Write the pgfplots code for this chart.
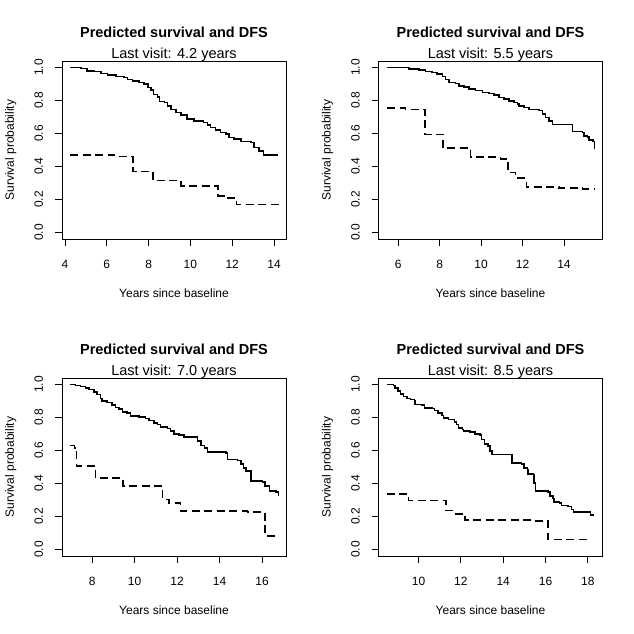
\documentclass[border=0pt]{standalone}
\usepackage{fontspec}
\setmainfont{Liberation Sans}
\usepackage{pgfplots}
\pgfplotsset{compat=1.18}

\pgfplotsset{
  km/.style={
    scale only axis, width=224pt, height=178pt,
    anchor=south west,
    ymin=-0.04, ymax=1.04,
    ytick={0,0.2,0.4,0.6,0.8,1},
    /pgf/number format/assume math mode=true,
    tick align=outside, major tick length=7pt,
    xtick pos=bottom, ytick pos=left,
    axis line style={line width=0.8pt},
    every tick/.style={black, line width=0.8pt},
    tick label style={font=\fontsize{12}{14}\selectfont},
    xticklabel style={anchor=base, yshift=-22pt},
    yticklabel style={xshift=-12pt, rotate=90, anchor=base,
      /pgf/number format/fixed, /pgf/number format/fixed zerofill,
      /pgf/number format/precision=1},
    xlabel={Years since baseline},
    ylabel={Survival probability},
    every axis x label/.style={at={(axis description cs:0.5,0)}, yshift=-58pt, anchor=base,
      font=\fontsize{12}{14}\selectfont},
    every axis y label/.style={at={(axis description cs:0,0.5)}, xshift=-48pt, rotate=90, anchor=base,
      font=\fontsize{12}{14}\selectfont},
    title={Predicted survival and DFS},
    every axis title/.style={at={(axis description cs:0.5,1)}, anchor=base, yshift=24pt,
      font=\bfseries\fontsize{14.5}{17}\selectfont},
  },
  surv/.style={black, const plot, line width=1.5pt},
  dfs/.style={black, const plot, line width=1.5pt, dash pattern=on 8pt off 4.5pt},
}
\newcommand{\lastvisit}[1]{\node[anchor=base, font=\fontsize{14.5}{17}\selectfont, yshift=3pt] at (rel axis cs:0.5,1) {Last visit: #1 years};}

\begin{document}
\begin{tikzpicture}
\path[use as bounding box] (0,0) rectangle (634pt,-634pt);

% top left
\begin{axis}[km, at={(62pt,-239pt)}, xmin=3.86, xmax=14.57, xtick={4,6,...,14}, clip=false]
\addplot[surv] coordinates {
 (4.25,1.000)(4.77,0.994)(5.05,0.980)(5.40,0.976)(5.72,0.964)(6.04,0.956)
 (6.44,0.947)(6.83,0.939)(6.99,0.927)(7.23,0.919)(7.55,0.909)(7.79,0.899)
 (7.98,0.879)(8.11,0.863)(8.24,0.838)(8.43,0.822)(8.51,0.794)(8.75,0.788)
 (8.90,0.768)(9.06,0.747)(9.30,0.727)(9.54,0.713)(9.83,0.687)(10.18,0.677)
 (10.62,0.667)(10.82,0.653)(10.97,0.636)(11.21,0.620)(11.45,0.606)(11.69,0.596)
 (11.85,0.576)(12.09,0.566)(12.41,0.552)(12.89,0.546)(13.04,0.515)(13.28,0.495)
 (13.49,0.469)(14.19,0.469)
};
\addplot[dfs] coordinates {
 (4.25,0.471)(6.36,0.461)(7.25,0.370)(8.20,0.315)(9.55,0.283)(11.33,0.222)
 (11.70,0.208)(12.20,0.170)(14.19,0.166)
};
\lastvisit{4.2}
\end{axis}

% top right
\begin{axis}[km, at={(378.5pt,-239pt)}, xmin=5.05, xmax=15.86, xtick={6,8,...,14}, clip=false]
\addplot[surv] coordinates {
 (5.47,1.000)(6.52,0.992)(7.00,0.984)(7.32,0.976)(7.64,0.970)(7.88,0.960)
 (8.13,0.947)(8.29,0.929)(8.45,0.909)(8.77,0.903)(8.93,0.889)(9.17,0.881)
 (9.41,0.871)(9.74,0.861)(10.06,0.848)(10.38,0.842)(10.62,0.834)(10.86,0.818)
 (11.10,0.808)(11.35,0.798)(11.59,0.788)(11.75,0.778)(11.83,0.768)(12.07,0.758)
 (12.31,0.747)(12.80,0.741)(12.96,0.717)(13.12,0.697)(13.28,0.677)(13.44,0.655)
 (14.41,0.612)(14.89,0.606)(14.97,0.586)(15.13,0.580)(15.21,0.560)(15.40,0.552)
 (15.48,0.505)(15.48,0.505)
};
\addplot[dfs] coordinates {
 (5.47,0.754)(6.35,0.745)(7.29,0.595)(8.17,0.511)(9.49,0.458)(10.94,0.446)
 (11.30,0.364)(11.67,0.329)(12.18,0.277)(13.76,0.269)(14.89,0.263)(15.48,0.260)
};
\lastvisit{5.5}
\end{axis}

% bottom left
\begin{axis}[km, at={(62pt,-556pt)}, xmin=6.58, xmax=17.13, xtick={8,10,...,16}, clip=false]
\addplot[surv] coordinates {
 (6.94,1.000)(7.21,0.996)(7.45,0.988)(7.69,0.980)(7.84,0.970)(8.08,0.956)
 (8.24,0.939)(8.39,0.915)(8.47,0.899)(8.71,0.891)(8.94,0.875)(9.10,0.861)
 (9.26,0.851)(9.42,0.834)(9.65,0.828)(9.81,0.808)(10.20,0.802)(10.52,0.794)
 (10.68,0.782)(10.91,0.768)(11.07,0.758)(11.23,0.743)(11.54,0.733)(11.70,0.717)
 (11.86,0.701)(12.09,0.693)(12.33,0.683)(12.80,0.681)(12.96,0.657)(13.12,0.632)
 (13.28,0.616)(13.43,0.590)(14.30,0.586)(14.38,0.545)(14.85,0.539)(15.01,0.519)
 (15.13,0.495)(15.24,0.475)(15.48,0.414)(16.03,0.410)(16.14,0.384)(16.35,0.354)
 (16.66,0.349)(16.77,0.323)(16.77,0.323)
};
\addplot[dfs] coordinates {
 (6.94,0.630)(7.17,0.616)(7.26,0.505)(8.08,0.495)(8.16,0.434)(9.46,0.384)
 (11.31,0.303)(11.62,0.283)(12.17,0.232)(15.32,0.226)(16.14,0.081)(16.77,0.079)
};
\lastvisit{7.0}
\end{axis}

% bottom right
\begin{axis}[km, at={(378.5pt,-556pt)}, xmin=8.11, xmax=18.69, xtick={10,12,...,18}, clip=false]
\addplot[surv] coordinates {
 (8.51,1.000)(8.82,0.996)(8.90,0.980)(9.03,0.960)(9.14,0.943)(9.29,0.929)
 (9.45,0.915)(9.61,0.909)(9.81,0.903)(9.84,0.879)(10.16,0.875)(10.28,0.859)
 (10.63,0.855)(10.75,0.842)(10.91,0.828)(11.10,0.814)(11.18,0.798)(11.41,0.788)
 (11.69,0.774)(11.80,0.758)(11.88,0.737)(12.07,0.727)(12.12,0.717)(12.43,0.713)
 (12.67,0.701)(12.90,0.693)(12.98,0.667)(13.11,0.640)(13.29,0.626)(13.37,0.596)
 (13.48,0.576)(14.42,0.525)(14.86,0.519)(14.99,0.495)(15.15,0.485)(15.18,0.459)
 (15.41,0.455)(15.46,0.404)(15.52,0.354)(16.12,0.349)(16.20,0.323)(16.35,0.309)
 (16.40,0.289)(16.67,0.283)(16.75,0.267)(17.06,0.259)(17.22,0.242)(17.31,0.228)
 (18.13,0.208)(18.28,0.208)
};
\addplot[dfs] coordinates {
 (8.51,0.337)(9.53,0.297)(11.30,0.236)(11.65,0.216)(12.20,0.178)(15.49,0.172)
 (16.12,0.061)(18.16,0.061)
};
\lastvisit{8.5}
\end{axis}
\end{tikzpicture}
\end{document}
